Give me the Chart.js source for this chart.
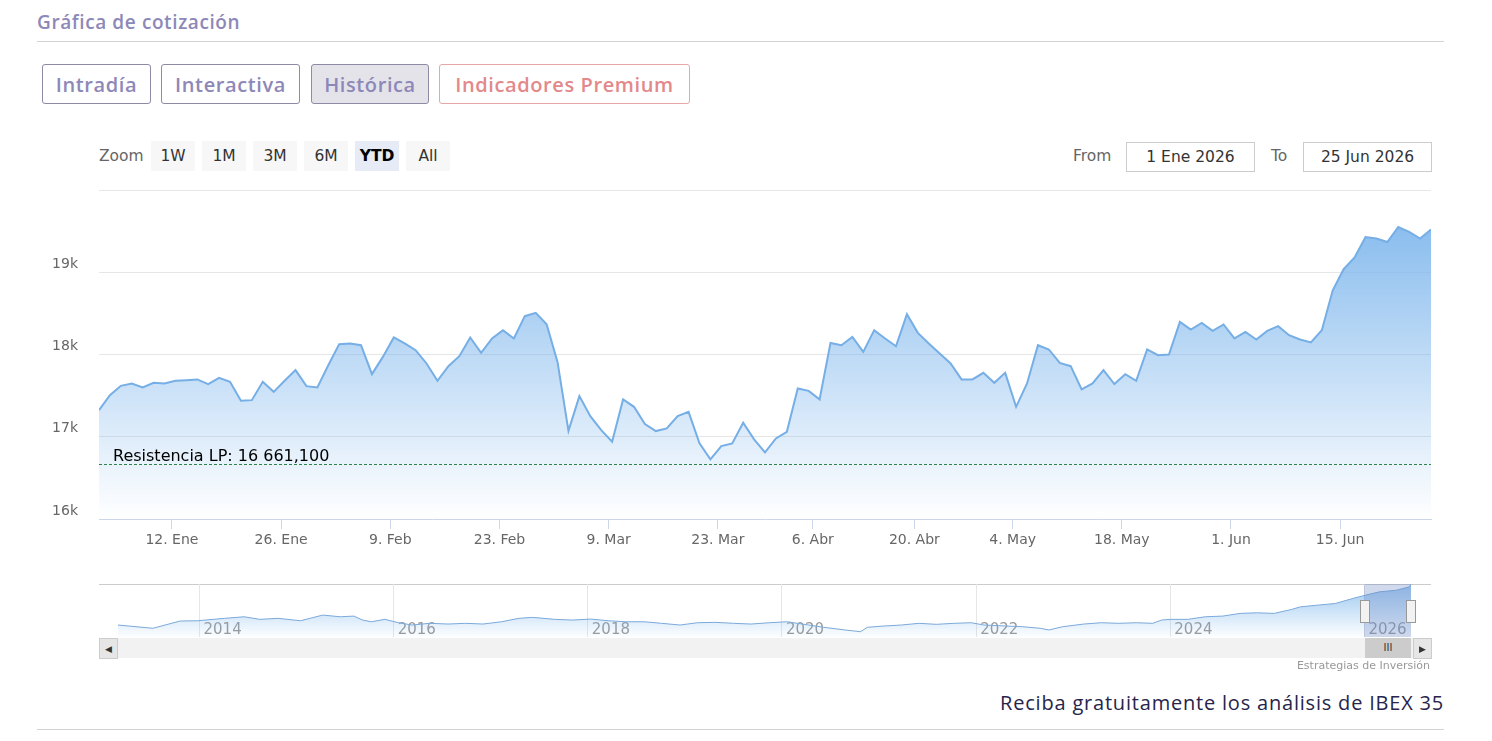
<!DOCTYPE html>
<html lang="es">
<head>
<meta charset="utf-8">
<title>Gráfica de cotización</title>
<script src="https://cdn.jsdelivr.net/npm/chart.js@4.4.1/dist/chart.umd.min.js"></script>
<style>
  html, body { margin: 0; padding: 0; background: #fff; }
  body { width: 1492px; height: 741px; position: relative; overflow: hidden; font-family: "Open Sans", Lato, sans-serif; }
  .abs { position: absolute; }
  .title { left: 37px; top: 9px; font-size: 19px; font-weight: 600; letter-spacing: 0.6px; color: #8d88b8; }
  .rule { left: 37px; width: 1407px; height: 1px; background: #d4d4d4; }
  .tab { top: 64px; height: 40px; box-sizing: border-box; border: 1px solid #8e8aa6; border-radius: 3px;
         color: #8d88b8; font-size: 20px; font-weight: 600; letter-spacing: 0.6px;
         display: flex; align-items: center; justify-content: center; }
  .tab.on { background: #e4e3ea; }
  .tab.premium { color: #e2898b; border-color: #e8a7a7; }
  .hc { font-family: "DejaVu Sans", sans-serif; }
  .rs-label { top: 141px; line-height: 30px; font-size: 15.5px; color: #666; }
  .rs-btn { top: 141px; width: 44px; height: 30px; line-height: 30px; text-align: center; background: #f7f7f7;
            font-size: 15.5px; color: #333; }
  .rs-btn.on { background: #e6ebf5; color: #000; font-weight: bold; }
  .rs-input { top: 142px; width: 129px; height: 30px; box-sizing: border-box; border: 1px solid #cccccc;
              line-height: 28px; text-align: center; font-size: 15.5px; color: #333; }
  canvas { position: absolute; left: 0; }
</style>
</head>
<body>
<div class="abs title">Gráfica de cotización</div>
<div class="abs rule" style="top:41px"></div>

<div class="abs tab" style="left:42px;width:109px">Intradía</div>
<div class="abs tab" style="left:161px;width:139px">Interactiva</div>
<div class="abs tab on" style="left:311px;width:118px">Histórica</div>
<div class="abs tab premium" style="left:439px;width:251px">Indicadores Premium</div>

<div class="abs hc rs-label" style="left:99px">Zoom</div>
<div class="abs hc rs-btn" style="left:151px">1W</div>
<div class="abs hc rs-btn" style="left:202px">1M</div>
<div class="abs hc rs-btn" style="left:253px">3M</div>
<div class="abs hc rs-btn" style="left:304px">6M</div>
<div class="abs hc rs-btn on" style="left:355px">YTD</div>
<div class="abs hc rs-btn" style="left:406px">All</div>
<div class="abs hc rs-label" style="left:1073px">From</div>
<div class="abs hc rs-input" style="left:1126px">1 Ene 2026</div>
<div class="abs hc rs-label" style="left:1271px">To</div>
<div class="abs hc rs-input" style="left:1303px">25 Jun 2026</div>

<canvas id="main" width="1492" height="380" style="top:180px"></canvas>

<div class="abs" style="left:99px;top:584px;width:1332px;height:1px;background:#cccccc"></div>
<canvas id="nav" width="1492" height="70" style="top:575px"></canvas>
<div class="abs" style="left:1364px;top:584px;width:47px;height:53px;background:rgba(102,133,194,0.3)"></div>
<div class="abs" style="left:1360px;top:600px;width:8px;height:21px;background:#f2f2f2;border:1px solid #999"></div>
<div class="abs" style="left:1406px;top:600px;width:8px;height:21px;background:#f2f2f2;border:1px solid #999"></div>

<div class="abs" style="left:99px;top:638px;width:1332px;height:20px;background:#f2f2f2"></div>
<div class="abs" style="left:99px;top:638px;width:17px;height:19px;background:#e6e6e6;border:1px solid #cccccc;font-size:9px;line-height:19px;text-align:center;color:#333">&#9664;</div>
<div class="abs hc" style="left:1365px;top:638px;width:46px;height:20px;background:#cccccc;font-size:10px;line-height:20px;text-align:center;color:#333">III</div>
<div class="abs" style="left:1413px;top:638px;width:17px;height:19px;background:#e6e6e6;border:1px solid #cccccc;font-size:9px;line-height:19px;text-align:center;color:#333">&#9654;</div>

<div class="abs hc" style="right:62px;top:659px;font-size:11px;color:#999">Estrategias de Inversión</div>
<div class="abs" style="right:48px;top:689px;font-size:20px;letter-spacing:0.8px;color:#27254a">Reciba gratuitamente los análisis de IBEX 35</div>
<div class="abs rule" style="top:729px"></div>

<script>
// IBEX 35 closes, one per session, 31 Dic 2025 .. 25 Jun 2026
const closes = [
  17324, 17506, 17619, 17648, 17600, 17656, 17648, 17680, 17688, 17697,
  17640, 17716, 17668, 17437, 17445, 17668, 17546, 17680, 17810, 17615,
  17600, 17870, 18126, 18134, 18113, 17761, 17971, 18207, 18134, 18053,
  17891, 17680, 17858, 17980, 18207, 18020, 18195, 18296, 18195, 18466,
  18506, 18368, 17907, 17072, 17494, 17251, 17081, 16939, 17454, 17364,
  17154, 17069, 17102, 17251, 17303, 16919, 16725, 16887, 16919, 17170,
  16968, 16810, 16980, 17060, 17587, 17558, 17454, 18141, 18113, 18214,
  18032, 18296, 18195, 18101, 18490, 18263, 18134, 18013, 17891, 17697,
  17697, 17777, 17656, 17777, 17364, 17648, 18113, 18061, 17898, 17858,
  17575, 17648, 17810, 17640, 17761, 17680, 18061, 17992, 18000, 18396,
  18304, 18384, 18287, 18365, 18195, 18275, 18183, 18287, 18344, 18235,
  18183, 18146, 18296, 18781, 19037, 19179, 19429, 19410, 19368, 19550,
  19490, 19410, 19519
];

// session number of each date tick (6 Abr falls in the Easter break)
const tickSessions = [7, 17, 27, 37, 47, 57, 65.7, 75, 84, 94, 104, 114];
const tickLabels = ['12. Ene', '26. Ene', '9. Feb', '23. Feb', '9. Mar', '23. Mar',
                    '6. Abr', '20. Abr', '4. May', '18. May', '1. Jun', '15. Jun'];
const TICK_SHIFT = -0.32;

const yTicks = [16000, 17000, 18000, 19000];

const resistance = 16661.1;
const resistanceName = 'Resistencia LP';

// navigator: long history, decimal year -> close
const navYears = [
  2013.16, 2013.52, 2013.80, 2013.98, 2014.26, 2014.46, 2014.62, 2014.81,
  2015.04, 2015.27, 2015.45, 2015.59, 2015.68, 2015.77, 2015.91,
  2016.05, 2016.19, 2016.37, 2016.56, 2016.74, 2016.92,
  2017.11, 2017.29, 2017.43, 2017.66, 2017.84,
  2018.03, 2018.21, 2018.39, 2018.58, 2018.76, 2018.95,
  2019.13, 2019.31, 2019.50, 2019.68, 2019.87,
  2020.05, 2020.16, 2020.43, 2020.65, 2020.81, 2020.88,
  2021.05, 2021.23, 2021.41, 2021.59, 2021.77, 2021.95,
  2022.08, 2022.31, 2022.48, 2022.66, 2022.75, 2022.89,
  2023.11, 2023.29, 2023.47, 2023.65, 2023.82, 2023.91,
  2024.00, 2024.18, 2024.36, 2024.54, 2024.72, 2024.89,
  2025.07, 2025.25, 2025.34, 2025.52, 2025.70, 2025.88,
  2026.01, 2026.15, 2026.33, 2026.46, 2026.48
];
const navCloses = [
  8300, 7400, 9400, 9480, 10140, 10570, 9860, 10140,
  9480, 11040, 10570, 10760, 9670, 9200, 9860,
  8930, 8300, 8770, 8570, 8770, 8570,
  9200, 10140, 10410, 9860, 9670,
  9940, 9480, 9200, 9200, 8770, 8300,
  8930, 9040, 8770, 8570, 8930,
  9200, 8770, 7670, 6930, 6460, 7670,
  8025, 8300, 8770, 8490, 8770, 8930,
  8300, 8025, 7830, 7400, 6930, 7830,
  8570, 8930, 8770, 8930, 8770, 9670,
  9860, 9860, 10570, 10760, 11500, 11670,
  11500, 12600, 13310, 13780, 14240, 15610,
  16520, 17420, 17890, 18790, 19519
];
const navTickYears = [2014, 2016, 2018, 2020, 2022, 2024, 2026];

const hcFont = 'DejaVu Sans';

const areaGradient = (ctx, top, bottom) => {
  const area = ctx.chart.chartArea;
  if (!area) return 'rgba(124,181,236,0.4)';
  const g = ctx.chart.ctx.createLinearGradient(0, area.top, 0, area.bottom);
  g.addColorStop(0, top);
  g.addColorStop(1, bottom);
  return g;
};

const fmtEs = (v) => {
  const parts = v.toFixed(3).split('.');
  return parts[0].replace(/\B(?=(\d{3})+(?!\d))/g, ' ') + ',' + parts[1];
};

// y labels sit a little above their grid line, like the original
const yLabels = {
  id: 'yLabels',
  afterDraw(chart) {
    const { ctx, chartArea, scales } = chart;
    ctx.save();
    ctx.fillStyle = '#666';
    ctx.font = '14px "' + hcFont + '"';
    ctx.textAlign = 'right';
    ctx.textBaseline = 'middle';
    yTicks.forEach((v) => {
      ctx.fillText((v / 1000) + 'k', chartArea.left - 21, scales.y.getPixelForValue(v) - 8);
    });
    ctx.restore();
  }
};

const resistancePlugin = {
  id: 'resistance',
  afterDatasetsDraw(chart) {
    const { ctx, chartArea, scales } = chart;
    const y = Math.round(scales.y.getPixelForValue(resistance)) - 0.5;
    ctx.save();
    ctx.strokeStyle = '#2f8049';
    ctx.lineWidth = 1;
    ctx.setLineDash([3, 2]);
    ctx.beginPath();
    ctx.moveTo(chartArea.left, y);
    ctx.lineTo(chartArea.right, y);
    ctx.stroke();
    ctx.setLineDash([]);
    ctx.fillStyle = '#000';
    ctx.font = '16px "' + hcFont + '"';
    ctx.textBaseline = 'alphabetic';
    ctx.fillText(resistanceName + ': ' + fmtEs(resistance), chartArea.left + 14, y - 4);
    ctx.restore();
  }
};

new Chart(document.getElementById('main'), {
  type: 'line',
  data: {
    datasets: [{
      data: closes.map((v, i) => ({ x: i, y: v })),
      borderColor: '#76aee6',
      borderWidth: 2,
      pointRadius: 0,
      tension: 0,
      fill: 'start',
      backgroundColor: (ctx) => areaGradient(ctx, 'rgba(124,181,236,1)', 'rgba(124,181,236,0)')
    }]
  },
  options: {
    responsive: false,
    animation: false,
    layout: { padding: { left: 52, right: 61, top: 10, bottom: 0 } },
    plugins: { legend: { display: false }, tooltip: { enabled: false } },
    scales: {
      x: {
        type: 'linear',
        min: 0,
        max: closes.length - 1,
        afterBuildTicks: (s) => { s.ticks = tickSessions.map(v => ({ value: v + TICK_SHIFT })); },
        afterFit: (s) => { s.height = 41; },
        grid: { drawOnChartArea: false, drawTicks: true, tickLength: 10, color: '#ccd6eb' },
        border: { color: '#ccd6eb' },
        ticks: {
          autoSkip: false, maxRotation: 0, padding: 3, color: '#666',
          font: { family: hcFont, size: 14 },
          callback: (v, i) => tickLabels[i]
        }
      },
      y: {
        min: 16000,
        max: 20000,
        afterFit: (s) => { s.width = 47; },
        grid: {
          drawTicks: false,
          color: (c) => (c.tick && c.tick.value === 16000) ? 'rgba(0,0,0,0)' : '#e6e6e6'
        },
        border: { display: false },
        ticks: { stepSize: 1000, display: false }
      }
    }
  },
  plugins: [resistancePlugin, yLabels]
});

const yearLabels = {
  id: 'yearLabels',
  beforeDatasetsDraw(chart) {
    const { ctx, chartArea, scales } = chart;
    ctx.save();
    ctx.fillStyle = '#999';
    ctx.font = '15px "' + hcFont + '"';
    navTickYears.forEach((yr) => {
      ctx.fillText(String(yr), scales.x.getPixelForValue(yr) + 4, chartArea.bottom - 3.5);
    });
    ctx.restore();
  }
};

new Chart(document.getElementById('nav'), {
  type: 'line',
  data: {
    datasets: [{
      data: navYears.map((x, i) => ({ x: x, y: navCloses[i] })),
      borderColor: '#7aa9da',
      borderWidth: 1,
      pointRadius: 0,
      tension: 0,
      fill: 'start',
      backgroundColor: (ctx) => areaGradient(ctx, 'rgba(124,181,236,0.75)', 'rgba(124,181,236,0.02)')
    }]
  },
  options: {
    responsive: false,
    animation: false,
    layout: { padding: { left: 117, right: 79, top: 9, bottom: 8 } },
    plugins: { legend: { display: false }, tooltip: { enabled: false } },
    scales: {
      x: {
        type: 'linear',
        min: 2013.15,
        max: 2026.5,
        afterBuildTicks: (s) => { s.ticks = navTickYears.map(v => ({ value: v })); },
        afterFit: (s) => { s.height = 0; },
        grid: { color: '#e6e6e6', drawTicks: false },
        border: { display: false },
        ticks: { display: false }
      },
      y: { display: false, min: 5000, max: 19600 }
    }
  },
  plugins: [yearLabels]
});
</script>
</body>
</html>
